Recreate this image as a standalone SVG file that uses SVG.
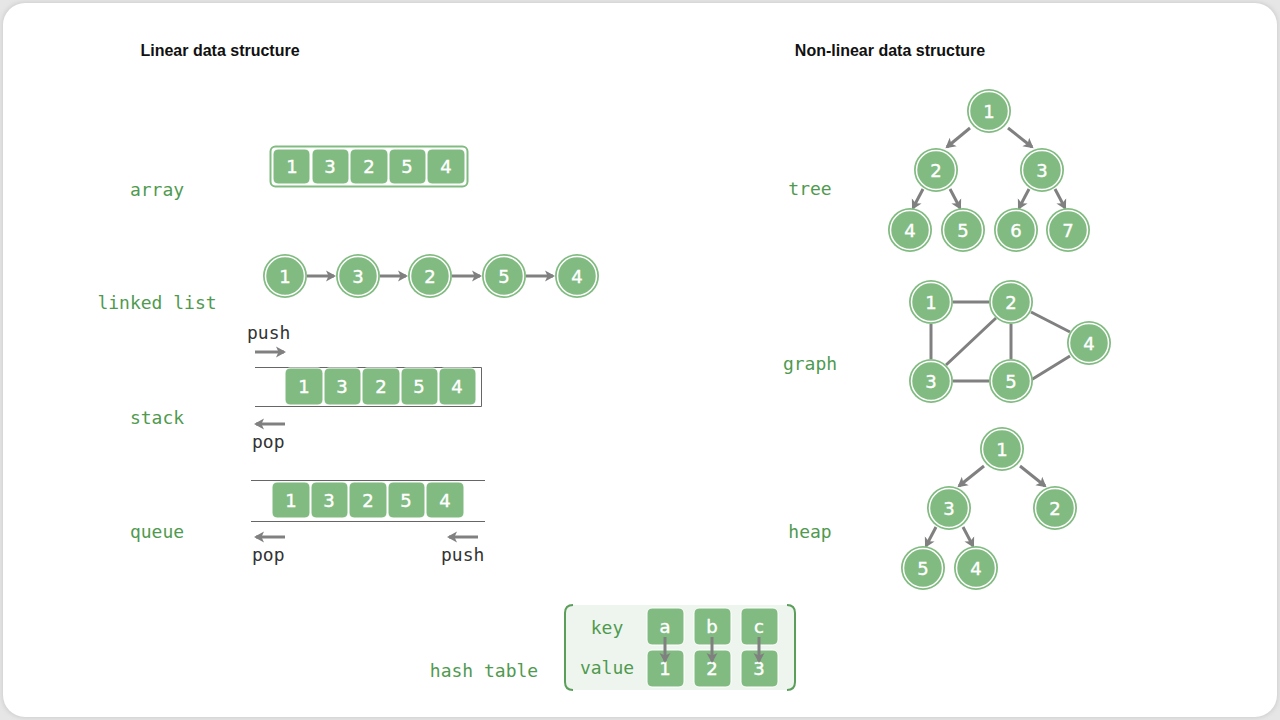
<svg xmlns="http://www.w3.org/2000/svg" width="1280" height="720" viewBox="0 0 1280 720">
<style>
.lbl{font-family:"DejaVu Sans Mono",monospace;font-size:18px;fill:#4f9a4f;text-anchor:middle}
.hdr{font-family:"Liberation Sans",Arial,sans-serif;font-size:16px;font-weight:bold;fill:#111;text-anchor:middle}
.op{font-family:"DejaVu Sans Mono",monospace;font-size:18px;fill:#333;}
.num{font-family:"DejaVu Sans",sans-serif;font-size:18px;fill:#fff;text-anchor:middle;dominant-baseline:central;stroke:#fff;stroke-width:0.4}
.cell{fill:#82bb82;stroke:#fff;stroke-width:1}
.ring{fill:none;stroke:#fff;stroke-width:1.5}
.disc{fill:#82bb82}
.edge{stroke:#808080;stroke-width:3;fill:none}
.line{stroke:#666;stroke-width:1;fill:none}
</style>
<defs>
<filter id="sh" x="-5%" y="-5%" width="110%" height="110%"><feGaussianBlur stdDeviation="2"/></filter>
<marker id="ah" markerWidth="12" markerHeight="12" refX="8" refY="6" orient="auto" markerUnits="userSpaceOnUse"><path d="M0,0.5 L10,6 L0,11.5 L2.5,6 Z" fill="#808080"/></marker>
<g id="nd"><circle r="22" class="disc"/><circle r="19.5" class="ring"/></g>
</defs>
<rect width="1280" height="720" fill="#e6e6e6"/>
<rect x="2" y="2" width="1276" height="716" rx="22" fill="#cfcfcf" filter="url(#sh)"/>
<rect x="3" y="3" width="1274" height="714" rx="22" fill="#fff"/>

<text class="hdr" x="220" y="56">Linear data structure</text>
<text class="hdr" x="890" y="56">Non-linear data structure</text>

<text class="lbl" x="157" y="196">array</text>
<text class="lbl" x="157" y="309">linked list</text>
<text class="lbl" x="157" y="424">stack</text>
<text class="lbl" x="157" y="538">queue</text>
<text class="lbl" x="810" y="195">tree</text>
<text class="lbl" x="810" y="370">graph</text>
<text class="lbl" x="810" y="538">heap</text>
<text class="lbl" x="484" y="677">hash table</text>

<g id="connectors">
<line class="edge" x1="307" y1="276" x2="334" y2="276" marker-end="url(#ah)"/>
<line class="edge" x1="380" y1="276" x2="406" y2="276" marker-end="url(#ah)"/>
<line class="edge" x1="452" y1="276" x2="480" y2="276" marker-end="url(#ah)"/>
<line class="edge" x1="526" y1="276" x2="553" y2="276" marker-end="url(#ah)"/>
<line class="edge" x1="255" y1="352" x2="284" y2="352" marker-end="url(#ah)"/>
<line class="edge" x1="285" y1="424" x2="256" y2="424" marker-end="url(#ah)"/>
<line class="edge" x1="285" y1="537" x2="256" y2="537" marker-end="url(#ah)"/>
<line class="edge" x1="478" y1="537" x2="449" y2="537" marker-end="url(#ah)"/>
<line class="edge" x1="970" y1="128" x2="947" y2="147" marker-end="url(#ah)"/>
<line class="edge" x1="1008" y1="128" x2="1032" y2="147" marker-end="url(#ah)"/>
<line class="edge" x1="923" y1="189" x2="913" y2="208" marker-end="url(#ah)"/>
<line class="edge" x1="950" y1="189" x2="960" y2="208" marker-end="url(#ah)"/>
<line class="edge" x1="1029" y1="189" x2="1019" y2="208" marker-end="url(#ah)"/>
<line class="edge" x1="1055" y1="189" x2="1065" y2="208" marker-end="url(#ah)"/>
<line class="edge" x1="953" y1="302" x2="989" y2="302"/>
<line class="edge" x1="931" y1="324" x2="931" y2="359"/>
<line class="edge" x1="946" y1="365" x2="996" y2="318"/>
<line class="edge" x1="1011" y1="324" x2="1011" y2="359"/>
<line class="edge" x1="953" y1="381" x2="989" y2="381"/>
<line class="edge" x1="1031" y1="312" x2="1070" y2="332"/>
<line class="edge" x1="1031" y1="380" x2="1070" y2="356"/>
<line class="edge" x1="984" y1="466" x2="959" y2="486" marker-end="url(#ah)"/>
<line class="edge" x1="1020" y1="466" x2="1045" y2="486" marker-end="url(#ah)"/>
<line class="edge" x1="936" y1="527" x2="926" y2="546" marker-end="url(#ah)"/>
<line class="edge" x1="963" y1="527" x2="973" y2="546" marker-end="url(#ah)"/>
</g>

<g id="array">
<rect x="270.5" y="146.5" width="197" height="40" rx="5" fill="#fff" stroke="#82bb82" stroke-width="2"/>
<rect class="cell" x="273" y="149" width="37" height="35" rx="5"/><text class="num" x="292" y="166">1</text>
<rect class="cell" x="312" y="149" width="37" height="35" rx="5"/><text class="num" x="330" y="166">3</text>
<rect class="cell" x="350" y="149" width="38" height="35" rx="5"/><text class="num" x="369" y="166">2</text>
<rect class="cell" x="389" y="149" width="37" height="35" rx="5"/><text class="num" x="407" y="166">5</text>
<rect class="cell" x="427" y="149" width="38" height="35" rx="5"/><text class="num" x="446" y="166">4</text>
</g>

<g id="linked-list">
<use href="#nd" x="285" y="276"/><text class="num" x="285" y="276">1</text>
<use href="#nd" x="358" y="276"/><text class="num" x="358" y="276">3</text>
<use href="#nd" x="430" y="276"/><text class="num" x="430" y="276">2</text>
<use href="#nd" x="504" y="276"/><text class="num" x="504" y="276">5</text>
<use href="#nd" x="577" y="276"/><text class="num" x="577" y="276">4</text>
</g>

<g id="stack">
<text class="op" x="247" y="339">push</text>
<path class="line" d="M255,367.5 H481.5 V406.5 H255"/>
<rect class="cell" x="285" y="368" width="38" height="37" rx="5"/><text class="num" x="304" y="386">1</text>
<rect class="cell" x="324" y="368" width="37" height="37" rx="5"/><text class="num" x="342" y="386">3</text>
<rect class="cell" x="362" y="368" width="38" height="37" rx="5"/><text class="num" x="381" y="386">2</text>
<rect class="cell" x="401" y="368" width="37" height="37" rx="5"/><text class="num" x="419" y="386">5</text>
<rect class="cell" x="439" y="368" width="37" height="37" rx="5"/><text class="num" x="457" y="386">4</text>
<text class="op" x="252" y="448">pop</text>
</g>

<g id="queue">
<line class="line" x1="251" y1="480.5" x2="485" y2="480.5"/>
<line class="line" x1="251" y1="521.5" x2="485" y2="521.5"/>
<rect class="cell" x="272" y="482" width="38" height="36" rx="5"/><text class="num" x="291" y="500">1</text>
<rect class="cell" x="311" y="482" width="37" height="36" rx="5"/><text class="num" x="329" y="500">3</text>
<rect class="cell" x="349" y="482" width="38" height="36" rx="5"/><text class="num" x="368" y="500">2</text>
<rect class="cell" x="388" y="482" width="37" height="36" rx="5"/><text class="num" x="406" y="500">5</text>
<rect class="cell" x="426" y="482" width="38" height="36" rx="5"/><text class="num" x="445" y="500">4</text>
<text class="op" x="252" y="561">pop</text>
<text class="op" x="441" y="561">push</text>
</g>

<g id="tree">
<use href="#nd" x="989" y="111"/><text class="num" x="989" y="111">1</text>
<use href="#nd" x="936" y="170"/><text class="num" x="936" y="170">2</text>
<use href="#nd" x="1042" y="170"/><text class="num" x="1042" y="170">3</text>
<use href="#nd" x="910" y="230"/><text class="num" x="910" y="230">4</text>
<use href="#nd" x="963" y="230"/><text class="num" x="963" y="230">5</text>
<use href="#nd" x="1016" y="230"/><text class="num" x="1016" y="230">6</text>
<use href="#nd" x="1068" y="230"/><text class="num" x="1068" y="230">7</text>
</g>

<g id="graph">
<use href="#nd" x="931" y="302"/><text class="num" x="931" y="302">1</text>
<use href="#nd" x="1011" y="302"/><text class="num" x="1011" y="302">2</text>
<use href="#nd" x="1089" y="343"/><text class="num" x="1089" y="343">4</text>
<use href="#nd" x="931" y="381"/><text class="num" x="931" y="381">3</text>
<use href="#nd" x="1011" y="381"/><text class="num" x="1011" y="381">5</text>
</g>

<g id="heap">
<use href="#nd" x="1002" y="449"/><text class="num" x="1002" y="449">1</text>
<use href="#nd" x="949" y="508"/><text class="num" x="949" y="508">3</text>
<use href="#nd" x="1055" y="508"/><text class="num" x="1055" y="508">2</text>
<use href="#nd" x="923" y="568"/><text class="num" x="923" y="568">5</text>
<use href="#nd" x="976" y="568"/><text class="num" x="976" y="568">4</text>
</g>

<g id="hash-table">
<rect x="565" y="605" width="230" height="85" rx="8" fill="#eef5ee"/>
<path d="M573,605 Q565,605 565,613 V682 Q565,690 573,690" fill="none" stroke="#5a9e5a" stroke-width="2"/>
<path d="M787,605 Q795,605 795,613 V682 Q795,690 787,690" fill="none" stroke="#5a9e5a" stroke-width="2"/>
<text class="lbl" x="607" y="634">key</text>
<text class="lbl" x="607" y="674">value</text>
<rect class="cell" x="647" y="608" width="37" height="37" rx="5"/><text class="num" x="665" y="626">a</text>
<rect class="cell" x="694" y="608" width="37" height="37" rx="5"/><text class="num" x="712" y="626">b</text>
<rect class="cell" x="741" y="608" width="37" height="37" rx="5"/><text class="num" x="759" y="626">c</text>
<rect class="cell" x="647" y="650" width="37" height="37" rx="5"/><text class="num" x="665" y="668">1</text>
<rect class="cell" x="694" y="650" width="37" height="37" rx="5"/><text class="num" x="712" y="668">2</text>
<rect class="cell" x="741" y="650" width="37" height="37" rx="5"/><text class="num" x="759" y="668">3</text>
<line class="edge" x1="665" y1="637" x2="665" y2="661" marker-end="url(#ah)"/>
<line class="edge" x1="712" y1="637" x2="712" y2="661" marker-end="url(#ah)"/>
<line class="edge" x1="759" y1="637" x2="759" y2="661" marker-end="url(#ah)"/>
</g>
</svg>
